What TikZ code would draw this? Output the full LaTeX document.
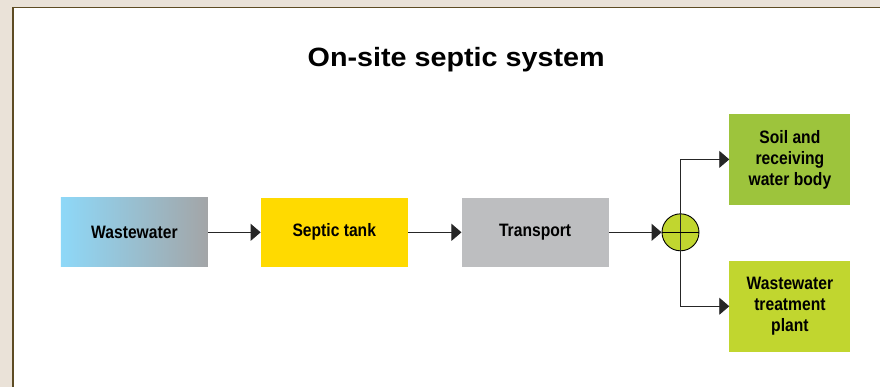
\documentclass[tikz,border=0pt]{standalone}
\usepackage{fontspec}
\usetikzlibrary{arrows.meta}
\usetikzlibrary{positioning}

\newfontfamily\labelfont[FakeStretch=0.87]{Liberation Sans}
\newfontfamily\titlefont[FakeStretch=1.085]{Liberation Sans}

\definecolor{paper}{HTML}{EAE2D8}
\definecolor{frame}{HTML}{5E4C24}
\definecolor{waterblue}{HTML}{8ED8F8}
\definecolor{wastegrey}{HTML}{A3A5A7}
\definecolor{tankyellow}{HTML}{FFDA00}
\definecolor{transportgrey}{HTML}{BDBEC0}
\definecolor{soilgreen}{HTML}{9DC43C}
\definecolor{plantgreen}{HTML}{C1D62F}

\tikzset{
  box/.style={minimum width=147pt, minimum height=69pt, inner sep=0pt,
    font=\labelfont\bfseries\fontsize{18}{21}\selectfont, align=center},
  outbox/.style={box, minimum width=121pt, minimum height=91pt},
  flow/.style={-{Triangle[length=10pt,width=17pt]}, line width=0.9pt, color=black!85},
}

\begin{document}
\begin{tikzpicture}[x=1pt,y=-1pt]
	% background and frame
	\fill[paper] (0,0) rectangle (881,387);
	\fill[white] (13,7.5) rectangle (881,387);
	\draw[frame,line width=1.3pt] (13,387) -- (13,7.5) -- (881,7.5);

	% title
	\node[anchor=base,font=\titlefont\bfseries\fontsize{26.5}{30}\selectfont] (title) at (456.5,66.7) {On-site septic system};

	% boxes
	\node[box,left color=waterblue,right color=wastegrey] (wastewater) at (134.5,232.5) {Wastewater};
	\node[box,fill=tankyellow] (tank) at (334.5,232.5) {Septic tank};
	\node[box,fill=transportgrey] (transport) at (535.5,232.5) {Transport};
	\node[circle,draw,fill=plantgreen,minimum size=37pt,inner sep=0pt,line width=0.9pt] (junction) at (681,232.5) {};
	\node[outbox,fill=soilgreen] (soil) at (790.5,159.5) {Soil and\\receiving\\water body};
	\node[outbox,fill=plantgreen] (plant) at (790.5,306.5) {Wastewater\\treatment\\plant};

	% arrows
	\draw[flow] (wastewater) -- (tank);
	\draw[flow] (tank) -- (transport);
	\draw[flow] (transport) -- (junction);
	\draw[flow] (junction.center) |- (soil.west);
	\draw[flow] (junction.center) |- (plant.west);
	\draw[line width=0.9pt] (junction.west) -- (junction.east);
\end{tikzpicture}
\end{document}
